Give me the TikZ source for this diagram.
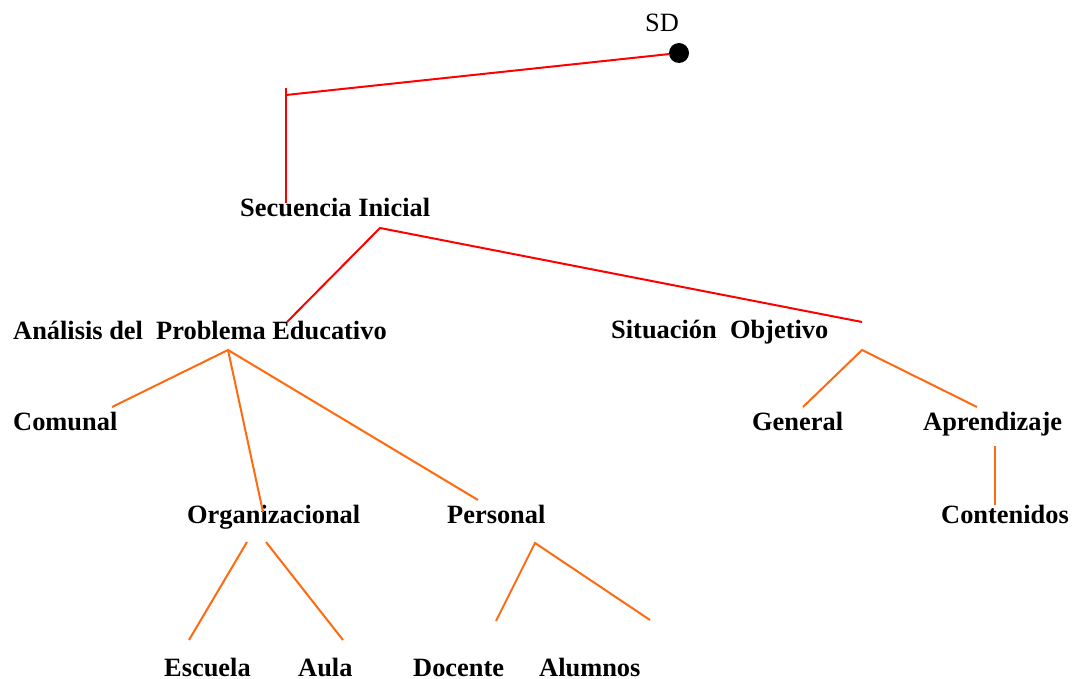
\documentclass[tikz,border=0pt]{standalone}
\usepackage{fontspec}
\setmainfont{Liberation Serif}
\definecolor{branchorange}{HTML}{FF6A10}
\begin{document}
\begin{tikzpicture}[x=1pt,y=-1pt,
  lbl/.style={anchor=base west,inner sep=0pt,font=\fontsize{26.4}{30}\selectfont\bfseries},
  red link/.style={draw=red,line width=2pt},
  orange link/.style={draw=branchorange,line width=2pt}]
\useasboundingbox (0,0) rectangle (1072,679);
% root
\node[anchor=base,inner sep=0pt,font=\fontsize{26.4}{30}\selectfont] (sd) at (662,32) {SD};
\node[circle,fill=black,minimum size=20pt,inner sep=0pt] (dot) at (679,53) {};
% labels
\node[lbl] (sec) at (240,217) {Secuencia Inicial};
\node[lbl] (ape) at (13,340) {Análisis del\ \ Problema Educativo};
\node[lbl] (so) at (611,339) {Situación\ \ Objetivo};
\node[lbl] (com) at (13,430) {Comunal};
\node[lbl] (gen) at (752,430) {General};
\node[lbl] (apr) at (923,430) {Aprendizaje};
\node[lbl] (org) at (187,523) {Organizacional};
\node[lbl] (per) at (447,523) {Personal};
\node[lbl] (con) at (941,523) {Contenidos};
\node[lbl] (esc) at (164,676) {Escuela};
\node[lbl] (aul) at (298,676) {Aula};
\node[lbl] (doc) at (413,676) {Docente};
\node[lbl] (alu) at (539,676) {Alumnos};
% connector ends
\coordinate (c0) at (286,95);
\coordinate (c0t) at (286,88);
\coordinate (c0b) at (286,203);
\coordinate (c1) at (380,228);
\coordinate (c1a) at (287,322);
\coordinate (c1b) at (862,322);
\coordinate (c2) at (228,350);
\coordinate (c2a) at (112,407);
\coordinate (c2b) at (263,512);
\coordinate (c2c) at (478,500);
\coordinate (c3) at (862,350);
\coordinate (c3a) at (803,407);
\coordinate (c3b) at (977,407);
\coordinate (c4t) at (995,446);
\coordinate (c4b) at (995,505);
\coordinate (c5a) at (247,542);
\coordinate (c5b) at (266,542);
\coordinate (c5c) at (189,640);
\coordinate (c5d) at (343,640);
\coordinate (c6) at (535,543);
\coordinate (c6a) at (496,621);
\coordinate (c6b) at (650,620);
% red links
\draw[red link] (dot) -- (c0);
\draw[red link] (c0t) -- (c0b);
\draw[red link] (c1a) -- (c1) -- (c1b);
% orange links
\draw[orange link] (c2a) -- (c2) -- (c2b);
\draw[orange link] (c2) -- (c2c);
\draw[orange link] (c3a) -- (c3) -- (c3b);
\draw[orange link] (c4t) -- (c4b);
\draw[orange link] (c5a) -- (c5c);
\draw[orange link] (c5b) -- (c5d);
\draw[orange link] (c6a) -- (c6) -- (c6b);
\end{tikzpicture}
\end{document}
